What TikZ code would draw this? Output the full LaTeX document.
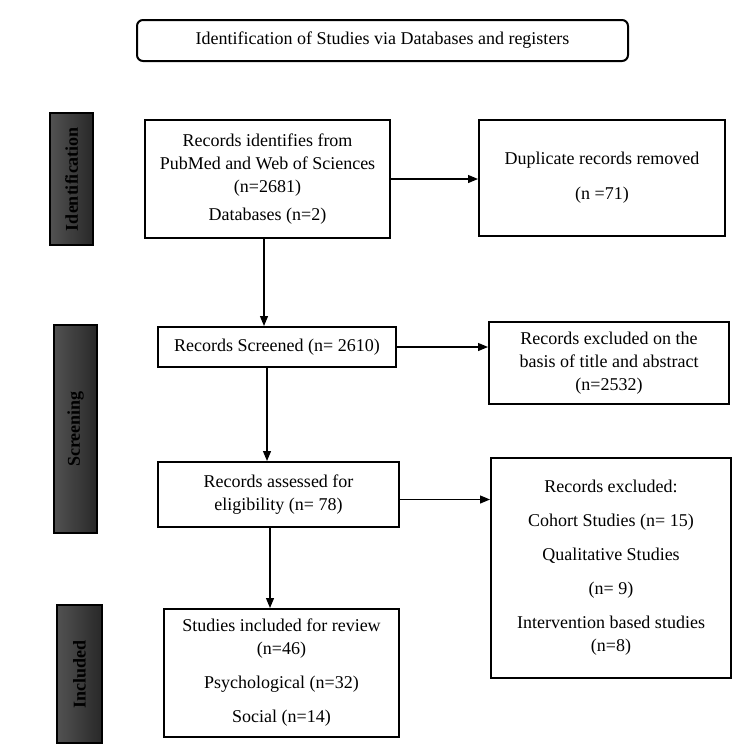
\documentclass[tikz,border=0pt]{standalone}
\usepackage{fontspec}
\setmainfont{Liberation Serif}
\usetikzlibrary{arrows.meta}
\definecolor{barL}{RGB}{82,82,82}
\definecolor{barR}{RGB}{40,40,40}
\begin{document}
\begin{tikzpicture}[x=1pt,y=-1pt,
  box/.style={draw,line width=2pt,rectangle,align=center,inner sep=2pt,font=\fontsize{18}{23}\selectfont},
  bar/.style={draw=black,line width=1.5pt,left color=barL,right color=barR,rectangle},
  barlabel/.style={rotate=90,font=\fontsize{18}{22}\selectfont\bfseries,text=black},
  arr/.style={line width=1.2pt,-{Triangle[length=10pt,width=8pt]}}]
\useasboundingbox (0,0) rectangle (750,750);

% title
\node[box,rounded corners=6pt,minimum width=491pt,minimum height=41pt] (title) at (382.5,40.5) {Identification of Studies via Databases and registers};

% side bars
\node[bar,minimum width=43pt,minimum height=132pt] (idbar) at (71.5,179) {};
\node[barlabel] (idlab) at (idbar.center) {Identification};
\node[bar,minimum width=43pt,minimum height=208pt] (scrbar) at (75.5,429) {};
\node[barlabel] (scrlab) at (scrbar.center) {Screening};
\node[bar,minimum width=45pt,minimum height=138pt] (incbar) at (79.5,674) {};
\node[barlabel] (inclab) at (incbar.center) {Included};

% boxes
\node[box,minimum width=245pt,minimum height=118pt] (rec) at (267.5,179)
  {Records identifies from\\PubMed and Web of Sciences\\(n=2681)\\[5pt]Databases (n=2)};
\node[box,minimum width=246pt,minimum height=116pt] (dup) at (602,178)
  {Duplicate records removed\\[12pt](n =71)};
\node[box,minimum width=238pt,minimum height=40pt] (scr) at (277,347)
  {Records Screened (n= 2610)};
\node[box,minimum width=240pt,minimum height=82pt] (exc1) at (609,363)
  {Records excluded on the\\basis of title and abstract\\(n=2532)};
\node[box,minimum width=241pt,minimum height=65pt] (elig) at (278.5,494.5)
  {Records assessed for\\eligibility (n= 78)};
\node[box,minimum width=240pt,minimum height=220pt] (exc2) at (611,568)
  {Records excluded:\\[11pt]Cohort Studies (n= 15)\\[11pt]Qualitative Studies\\[11pt](n= 9)\\[11pt]Intervention based studies\\(n=8)};
\node[box,minimum width=235pt,minimum height=128pt] (inc) at (281.5,673)
  {Studies included for review\\(n=46)\\[11pt]Psychological (n=32)\\[11pt]Social (n=14)};

% connectors
\draw[arr] (rec.east) -- (rec.east -| dup.west);
\draw[arr] ([xshift=-3.5pt]rec.south) -- ([xshift=-3.5pt]rec.south |- scr.north);
\draw[arr] (scr.east) -- (scr.east -| exc1.west);
\draw[arr] ([xshift=-10pt]scr.south) -- ([xshift=-10pt]scr.south |- elig.north);
\draw[arr] ([yshift=-5pt]elig.east) -- ([yshift=-5pt]elig.east -| exc2.west);
\draw[arr] ([xshift=-8.5pt]elig.south) -- ([xshift=-8.5pt]elig.south |- inc.north);
\end{tikzpicture}
\end{document}
